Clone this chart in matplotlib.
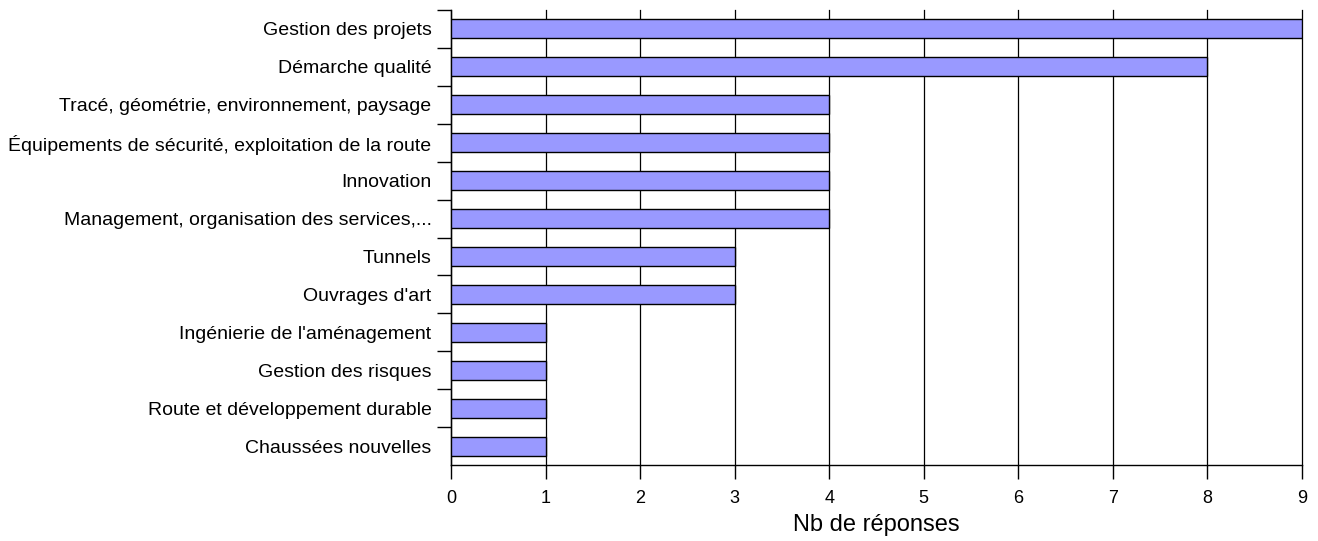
import numpy as np
import matplotlib
matplotlib.use("Agg")
import matplotlib.pyplot as plt
from matplotlib.ticker import FixedLocator

plt.rcParams["font.family"] = ["Liberation Sans", "DejaVu Sans"]

categories = [
    "Gestion des projets",
    "Démarche qualité",
    "Tracé, géométrie, environnement, paysage",
    "Équipements de sécurité, exploitation de la route",
    "Innovation",
    "Management, organisation des services,...",
    "Tunnels",
    "Ouvrages d'art",
    "Ingénierie de l'aménagement",
    "Gestion des risques",
    "Route et développement durable",
    "Chaussées nouvelles",
]
values = [9, 8, 4, 4, 4, 4, 3, 3, 1, 1, 1, 1]
x_ticks = list(range(0, 10))

fig = plt.figure(figsize=(13.18, 5.41), dpi=100)
ax = fig.add_axes([451 / 1318, 1 - 465 / 541, (1302 - 451) / 1318, (465 - 10) / 541])

y = np.arange(len(categories))
ax.barh(y, values, height=0.5, color="#9999ff", edgecolor="black", linewidth=1, zorder=3)

ax.set_xlim(0, 9)
ax.set_ylim(len(categories) - 0.5, -0.5)
ax.set_xticks(x_ticks)
ax.xaxis.grid(True, color="black", linewidth=0.9, zorder=0)
for gl in ax.get_xgridlines():
    gl.set_clip_on(False)

ax.set_yticks(y)
ax.set_yticklabels(categories, fontsize=14)
ax.tick_params(axis="y", length=0, pad=14)
# short ticks between categories (none at the bottom edge)
ax.yaxis.set_minor_locator(FixedLocator(np.arange(-0.5, len(categories) - 1, 1)))
ax.tick_params(axis="y", which="minor", length=10, width=1, color="black")
ax.tick_params(axis="x", length=10, width=1, labelsize=13, pad=8)

for side in ["top", "right"]:
    ax.spines[side].set_visible(False)
ax.spines["left"].set_linewidth(1)
ax.spines["bottom"].set_linewidth(1)

ax.set_xlabel("Nb de réponses", fontsize=17, labelpad=5)

fig.savefig("out.png", dpi=100)
